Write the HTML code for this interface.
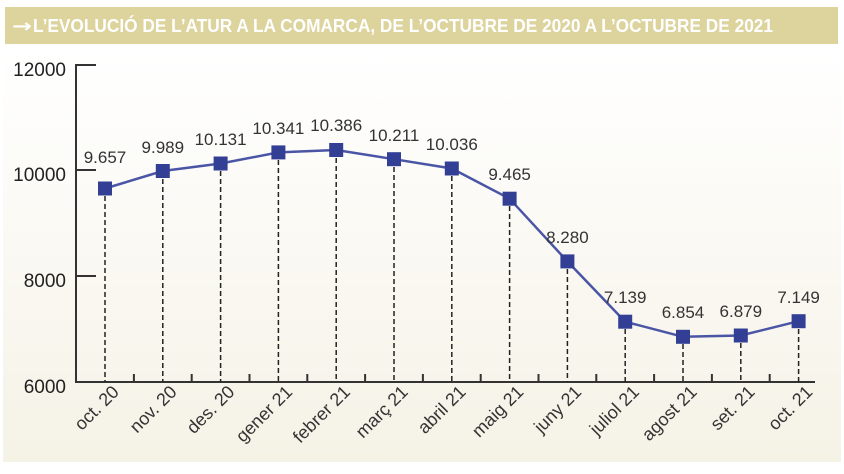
<!DOCTYPE html>
<html><head><meta charset="utf-8"><style>
body{margin:0;width:844px;height:474px;overflow:hidden;background:#fff;}
svg{display:block}
</style></head><body>
<svg width="844" height="474" xmlns="http://www.w3.org/2000/svg" font-family="Liberation Sans, DejaVu Sans, sans-serif">
<defs><linearGradient id="bg" x1="0" y1="0" x2="0" y2="1"><stop offset="0" stop-color="#ffffff"/><stop offset="1" stop-color="#f5f2e6"/></linearGradient></defs>
<rect x="3" y="48" width="838" height="414" fill="url(#bg)"/>
<rect x="5" y="7" width="833" height="37" fill="#dcd39d"/>
<text x="12" y="32" font-size="18" font-weight="bold" fill="#fff" font-family="DejaVu Sans" textLength="20" lengthAdjust="spacingAndGlyphs">→</text>
<text x="33" y="32" font-size="18" font-weight="bold" fill="#fff" textLength="740" lengthAdjust="spacingAndGlyphs">L’EVOLUCIÓ DE L’ATUR A LA COMARCA, DE L’OCTUBRE DE 2020 A L’OCTUBRE DE 2021</text>
<g stroke="#333" stroke-width="2" fill="none">
<path d="M96 65H76V382H815"/>
<path d="M76 170H96M76 276H96"/>
<path d="M133.9 382V374M191.7 382V374M249.5 382V374M307.3 382V374M365.1 382V374M422.9 382V374M480.7 382V374M538.5 382V374M596.3 382V374M654.1 382V374M711.9 382V374M769.7 382V374"/>
</g>
<g fill="#222" font-size="19" text-anchor="end">
<text x="66" y="76">12000</text><text x="66" y="181">10000</text><text x="66" y="287">8000</text><text x="66" y="393">6000</text>
</g>
<g stroke="#222" stroke-width="1.5" stroke-dasharray="5,3">
<line x1="105" y1="196" x2="105" y2="382"/>
<line x1="162.8" y1="179" x2="162.8" y2="382"/>
<line x1="220.6" y1="171" x2="220.6" y2="382"/>
<line x1="278.4" y1="160" x2="278.4" y2="382"/>
<line x1="336.2" y1="158" x2="336.2" y2="382"/>
<line x1="394" y1="167" x2="394" y2="382"/>
<line x1="451.8" y1="176" x2="451.8" y2="382"/>
<line x1="509.6" y1="206" x2="509.6" y2="382"/>
<line x1="567.4" y1="269" x2="567.4" y2="382"/>
<line x1="625.2" y1="329" x2="625.2" y2="382"/>
<line x1="683" y1="344" x2="683" y2="382"/>
<line x1="740.8" y1="343" x2="740.8" y2="382"/>
<line x1="798.6" y1="329" x2="798.6" y2="382"/>
</g>
<g font-size="18" fill="#333" text-anchor="end">
<text transform="translate(120,393) rotate(-45)">oct. 20</text>
<text transform="translate(177.8,393) rotate(-45)">nov. 20</text>
<text transform="translate(235.6,393) rotate(-45)">des. 20</text>
<text transform="translate(293.4,393) rotate(-45)">gener 21</text>
<text transform="translate(351.2,393) rotate(-45)">febrer 21</text>
<text transform="translate(409,393) rotate(-45)">març 21</text>
<text transform="translate(466.8,393) rotate(-45)">abril 21</text>
<text transform="translate(524.6,393) rotate(-45)">maig 21</text>
<text transform="translate(582.4,393) rotate(-45)">juny 21</text>
<text transform="translate(640.2,393) rotate(-45)">juliol 21</text>
<text transform="translate(698,393) rotate(-45)">agost 21</text>
<text transform="translate(755.8,393) rotate(-45)">set. 21</text>
<text transform="translate(813.6,393) rotate(-45)">oct. 21</text>
</g>
<polyline points="105,188.5 162.8,171 220.6,163.5 278.4,152.4 336.2,150 394,159.2 451.8,168.5 509.6,198.7 567.4,261.4 625.2,321.7 683,336.8 740.8,335.5 798.6,321.2" fill="none" stroke="#4a55a6" stroke-width="2.5"/>
<g fill="#323f94">
<rect x="98" y="181.5" width="14" height="14"/>
<rect x="155.8" y="164" width="14" height="14"/>
<rect x="213.6" y="156.5" width="14" height="14"/>
<rect x="271.4" y="145.4" width="14" height="14"/>
<rect x="329.2" y="143" width="14" height="14"/>
<rect x="387" y="152.2" width="14" height="14"/>
<rect x="444.8" y="161.5" width="14" height="14"/>
<rect x="502.6" y="191.7" width="14" height="14"/>
<rect x="560.4" y="254.4" width="14" height="14"/>
<rect x="618.2" y="314.7" width="14" height="14"/>
<rect x="676" y="329.8" width="14" height="14"/>
<rect x="733.8" y="328.5" width="14" height="14"/>
<rect x="791.6" y="314.2" width="14" height="14"/>
</g>
<g font-size="17" fill="#333" text-anchor="middle">
<text x="105" y="163">9.657</text>
<text x="162.8" y="153">9.989</text>
<text x="220.6" y="145">10.131</text>
<text x="278.4" y="134">10.341</text>
<text x="336.2" y="131">10.386</text>
<text x="394" y="141">10.211</text>
<text x="451.8" y="150">10.036</text>
<text x="509.6" y="180">9.465</text>
<text x="567.4" y="243">8.280</text>
<text x="625.2" y="303">7.139</text>
<text x="683" y="318">6.854</text>
<text x="740.8" y="317">6.879</text>
<text x="798.6" y="303">7.149</text>
</g>
</svg>
</body></html>
